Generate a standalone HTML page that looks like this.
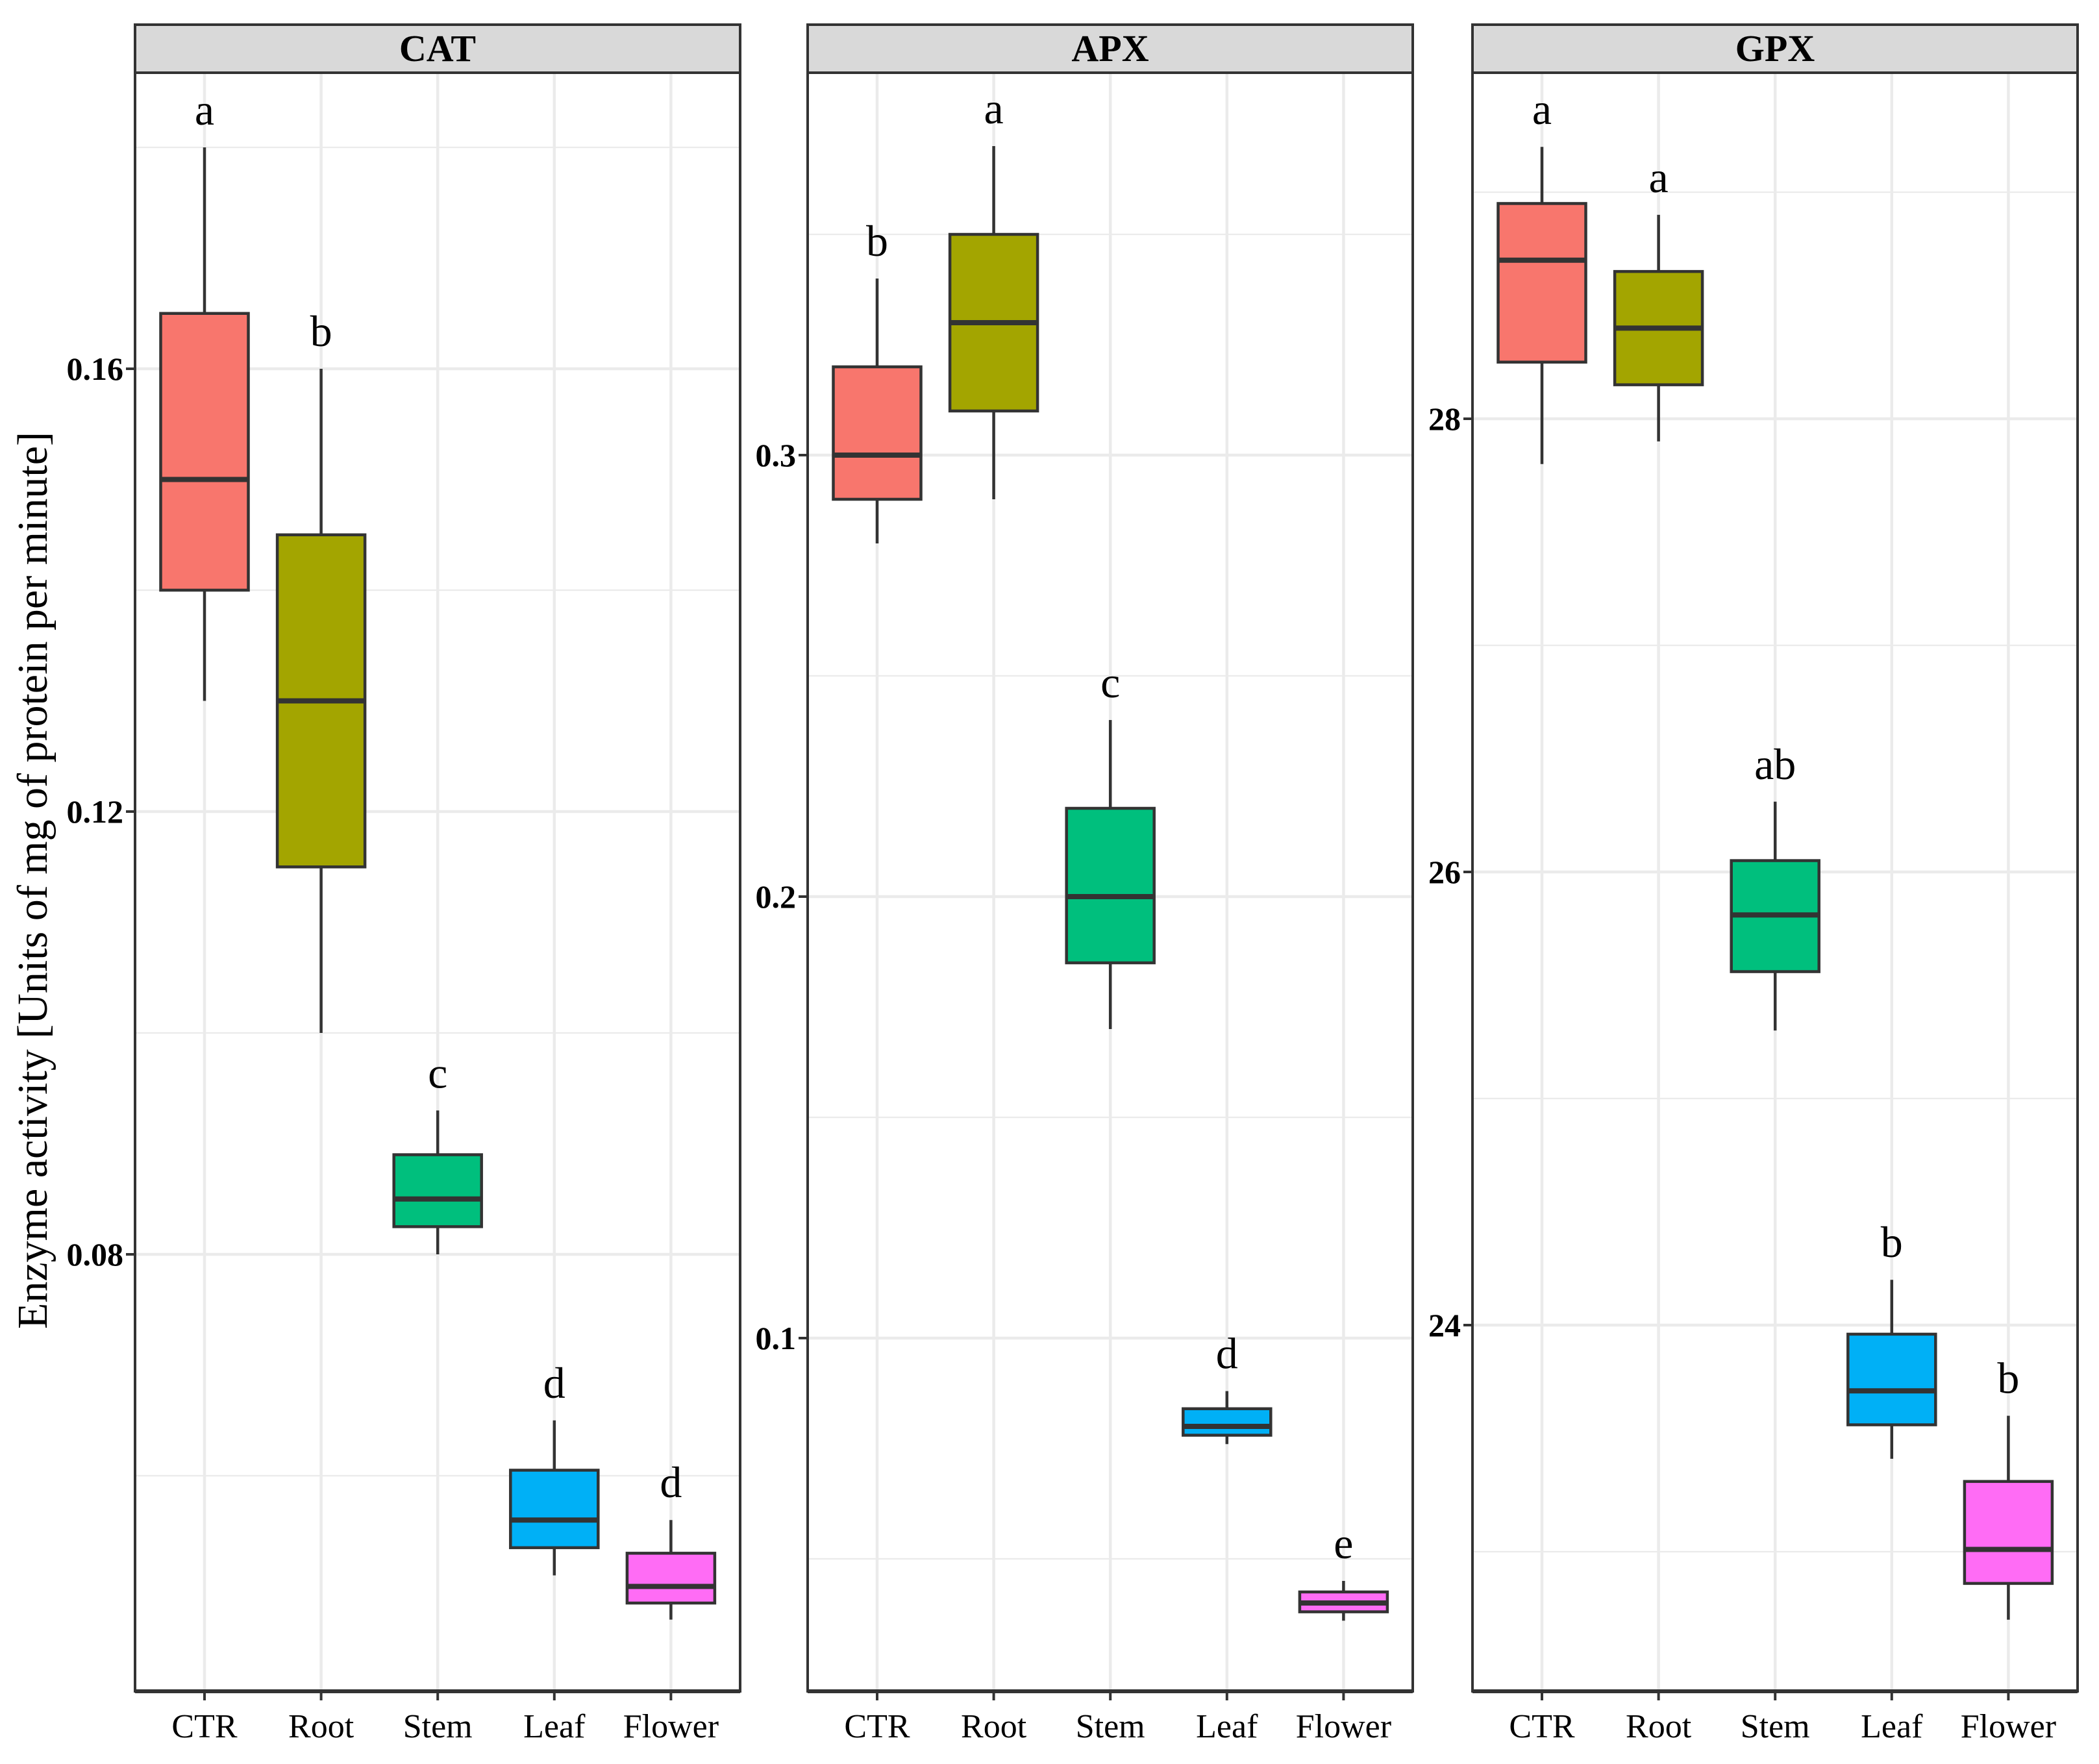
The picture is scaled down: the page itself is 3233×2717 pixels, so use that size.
<!DOCTYPE html>
<html><head><meta charset="utf-8"><style>
html,body{margin:0;padding:0;background:#fff;}
svg{display:block;}
</style></head><body>
<svg id="chart" xmlns="http://www.w3.org/2000/svg" width="3233" height="2717" viewBox="0 0 3233 2717" font-family="Liberation Serif, serif">
<rect width="3233" height="2717" fill="#fff"/>
<text transform="translate(72,1356) rotate(-90)" text-anchor="middle" font-size="66" fill="#000">Enzyme activity [Units of mg of protein per minute]</text>
</svg>
<script>
const categories = ["CTR","Root","Stem","Leaf","Flower"];
const colors = ["#F8766D","#A3A500","#00BF7D","#00B0F6","#FF6CF5"];
const catMax = [0.180,0.160,0.093,0.065,0.056];
const catQ3  = [0.165,0.145,0.089,0.0605,0.053];
const catMed = [0.150,0.130,0.085,0.056,0.050];
const catQ1  = [0.140,0.115,0.0825,0.0535,0.0485];
const catMin = [0.130,0.100,0.080,0.051,0.047];
const catLetters = ["a","b","c","d","d"];
const catTicks = [0.08,0.12,0.16];
const catTickLabels = ["0.08","0.12","0.16"];
const apxMax = [0.340,0.370,0.240,0.088,0.045];
const apxQ3  = [0.320,0.350,0.220,0.084,0.0425];
const apxMed = [0.300,0.330,0.200,0.080,0.040];
const apxQ1  = [0.290,0.310,0.185,0.078,0.038];
const apxMin = [0.280,0.290,0.170,0.076,0.036];
const apxLetters = ["b","a","c","d","e"];
const apxTicks = [0.1,0.2,0.3];
const apxTickLabels = ["0.1","0.2","0.3"];
const gpxMax = [29.20,28.90,26.31,24.20,23.60];
const gpxQ3  = [28.95,28.65,26.05,23.96,23.31];
const gpxMed = [28.70,28.40,25.81,23.71,23.01];
const gpxQ1  = [28.25,28.15,25.56,23.56,22.86];
const gpxMin = [27.80,27.90,25.30,23.41,22.70];
const gpxLetters = ["a","a","ab","b","b"];
const gpxTicks = [24,26,28];
const gpxTickLabels = ["24","26","28"];

const NS="http://www.w3.org/2000/svg";
const svg=document.getElementById('chart');
function mk(tag,attrs,parent){const e=document.createElementNS(NS,tag);for(const k in attrs)e.setAttribute(k,attrs[k]);(parent||svg).appendChild(e);return e;}
const TOP=112,BOT=2605,STRIPTOP=38;
function panel(name,left,right,refVal,refPx,stepVal,stepPx,ticks,tickLabels,mx,q3,md,q1,mn,letters){
  const g=mk('g',{});
  
  
  const y=v=>refPx+(refVal-v)/stepVal*stepPx;
  const x=i=>left+107+179.6*i;
  const minorStep=stepVal/2;
  const vTop=refVal+(refPx-TOP)/stepPx*stepVal, vBot=refVal-(BOT-refPx)/stepPx*stepVal;
  const start=Math.ceil(vBot/minorStep-1e-9);
  for(let k=start;k*minorStep<=vTop;k++){
    const yy=y(k*minorStep);
    const isMajor=Math.abs(Math.round(k*minorStep/stepVal*1000)/1000 - Math.round(k*minorStep/stepVal))<1e-6;
    const l=mk('line',{x1:left,x2:right,y1:yy,y2:yy,stroke:'#ebebeb','stroke-width':isMajor?4.5:2.2},g);
    
    
  }
  categories.forEach((c,i)=>{
    const l=mk('line',{x1:x(i),x2:x(i),y1:TOP,y2:BOT,stroke:'#ebebeb','stroke-width':4.5},g);
    
    
  });
  const bw=135;
  categories.forEach((c,i)=>{
    const bg=mk('g',{},g);
    
    
    mk('line',{x1:x(i),x2:x(i),y1:y(mx[i]),y2:y(mn[i]),stroke:'#333','stroke-width':4.5},bg);
    mk('rect',{x:x(i)-bw/2,y:y(q3[i]),width:bw,height:y(q1[i])-y(q3[i]),fill:colors[i],stroke:'#333','stroke-width':4.5},bg);
    mk('line',{x1:x(i)-bw/2,x2:x(i)+bw/2,y1:y(md[i]),y2:y(md[i]),stroke:'#333','stroke-width':8},bg);
    const t=mk('text',{x:x(i),y:y(mx[i])-35,'text-anchor':'middle','font-size':68,fill:'#000'},g);
    t.textContent=letters[i];
    
    
    const tl=mk('text',{x:x(i),y:2676,'text-anchor':'middle','font-size':52,fill:'#000'},g);
    tl.textContent=c;
    
    
    mk('line',{x1:x(i),x2:x(i),y1:BOT,y2:BOT+14,stroke:'#333','stroke-width':4},g);
  });
  ticks.forEach((v,i)=>{
    mk('line',{x1:left-14,x2:left,y1:y(v),y2:y(v),stroke:'#333','stroke-width':4},g);
    const t=mk('text',{x:left-18,y:y(v)+17,'text-anchor':'end','font-size':50,'font-weight':'bold',fill:'#000'},g);
    t.textContent=tickLabels[i];
    
    
  });
  mk('rect',{x:left,y:TOP,width:right-left,height:BOT-TOP,fill:'none',stroke:'#333','stroke-width':4},g);
  mk('line',{x1:left,x2:right,y1:BOT,y2:BOT,stroke:'#333','stroke-width':6},g);
  const s=mk('rect',{x:left,y:STRIPTOP,width:right-left,height:TOP-STRIPTOP,fill:'#d9d9d9',stroke:'#333','stroke-width':4},g);
  
  
  const st=mk('text',{x:(left+right)/2,y:94,'text-anchor':'middle','font-size':58,'font-weight':'bold',fill:'#000'},g);
  st.textContent=name;
  
  
}
panel('CAT',208,1140,0.16,568,0.04,682,catTicks,catTickLabels,catMax,catQ3,catMed,catQ1,catMin,catLetters);
panel('APX',1244,2176,0.3,701,0.1,680,apxTicks,apxTickLabels,apxMax,apxQ3,apxMed,apxQ1,apxMin,apxLetters);
panel('GPX',2268,3200,28,645,2,698,gpxTicks,gpxTickLabels,gpxMax,gpxQ3,gpxMed,gpxQ1,gpxMin,gpxLetters);
</script>
</body></html>
